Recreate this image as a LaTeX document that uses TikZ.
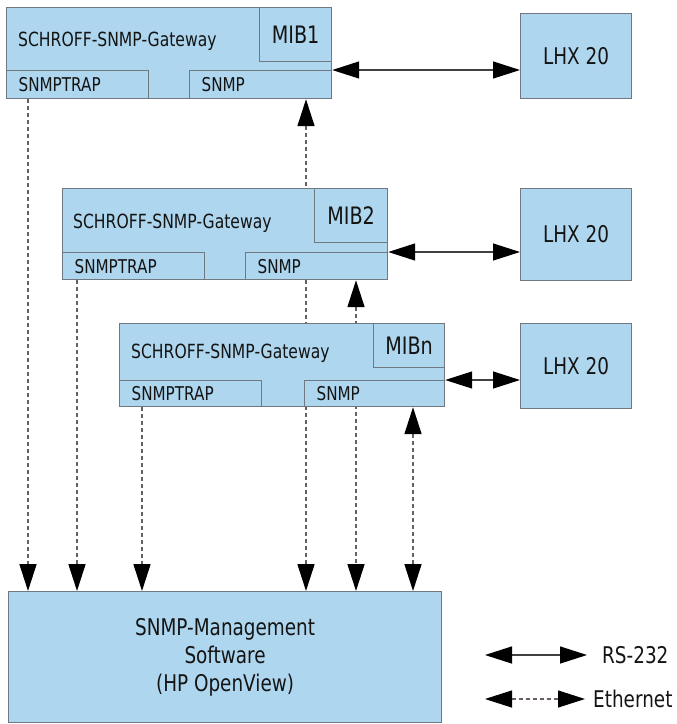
\documentclass[tikz,border=0pt]{standalone}
\usepackage{fontspec}
\setmainfont{DejaVu Sans}[FakeStretch=0.8]
\usetikzlibrary{arrows.meta,positioning,backgrounds}
\definecolor{boxblue}{RGB}{174,214,238}
\definecolor{edgegray}{RGB}{112,120,128}
\definecolor{ethgray}{RGB}{105,95,95}
\definecolor{txt}{RGB}{20,20,20}
\begin{document}
\begin{tikzpicture}[x=1pt,y=-1pt,
    box/.style = {draw=edgegray, fill=boxblue, line width=1.2pt, inner sep=0pt, anchor=north west, text=txt},
    gw/.style = {box, minimum width=325pt},
    mib/.style = {box, anchor=north east, font=\fontsize{24}{28}\selectfont},
    port/.style = {box, text width=118pt, inner xsep=12pt, align=left, font=\fontsize{19}{22}\selectfont},
    gwtext/.style = {anchor=west, inner sep=0pt, text=txt, font=\fontsize{19.5}{23}\selectfont},
    lhx/.style = {box, minimum width=111pt, font=\fontsize{23}{27}\selectfont},
    rs/.style = {draw=black!75, line width=1.3pt, {Triangle[length=27pt,width=17pt,color=black]}-{Triangle[length=27pt,width=17pt,color=black]}},
    eth/.style = {draw=ethgray, line width=1.6pt, dash pattern=on 4pt off 3pt},
    legend/.style = {anchor=west, inner sep=0pt, text=txt, font=\fontsize{23}{27}\selectfont}]
    \useasboundingbox (0,0) rectangle (677,724);

    % gateway 1
    \node[gw, minimum height=91pt] (gwA) at (6,7) {};
    \node[gwtext] (gwAt) at ([xshift=12pt,yshift=-34pt]gwA.north west) {SCHROFF-SNMP-Gateway};
    \node[mib, minimum width=72pt, minimum height=54pt] (mibA) at (gwA.north east) {MIB1};
    \node[port, minimum height=28pt, anchor=south west] (trapA) at (gwA.south west) {SNMPTRAP};
    \node[port, minimum height=28pt, anchor=south east] (snmpA) at (gwA.south east) {SNMP};

    % gateway 2
    \node[gw, minimum height=91pt] (gwB) at (62,188) {};
    \node[gwtext] (gwBt) at ([xshift=11pt,yshift=-35pt]gwB.north west) {SCHROFF-SNMP-Gateway};
    \node[mib, minimum width=73pt, minimum height=54pt] (mibB) at (gwB.north east) {MIB2};
    \node[port, minimum height=27pt, anchor=south west] (trapB) at (gwB.south west) {SNMPTRAP};
    \node[port, minimum height=27pt, anchor=south east] (snmpB) at (gwB.south east) {SNMP};

    % gateway n
    \node[gw, minimum height=83pt] (gwC) at (119,323) {};
    \node[gwtext] (gwCt) at ([xshift=12pt,yshift=-30pt]gwC.north west) {SCHROFF-SNMP-Gateway};
    \node[mib, minimum width=71pt, minimum height=44pt] (mibC) at (gwC.north east) {MIBn};
    \node[port, minimum height=26pt, anchor=south west] (trapC) at (gwC.south west) {SNMPTRAP};
    \node[port, minimum height=26pt, text width=116pt, anchor=south east] (snmpC) at (gwC.south east) {SNMP};

    % LHX units
    \node[lhx, minimum height=85pt] (lhxA) at (520,13) {LHX 20};
    \node[lhx, minimum height=92pt] (lhxB) at (520,188) {LHX 20};
    \node[lhx, minimum height=85pt] (lhxC) at (520,323) {LHX 20};

    % management station
    \node[box, minimum width=433pt, minimum height=131pt, align=center,
          font=\fontsize{23}{28}\selectfont] (mgr) at (8,591)
          {SNMP-Management\\Software\\(HP OpenView)};

    % RS-232 links
    \draw[rs] (snmpA.north east) -- (snmpA.north east -| lhxA.west);
    \draw[rs] (snmpB.north east) -- (snmpB.north east -| lhxB.west);
    \draw[rs] (snmpC.north east) -- (snmpC.north east -| lhxC.west);

    % Ethernet links
    \coordinate (t1) at (28,0);
    \coordinate (t2) at (77,0);
    \coordinate (t3) at (142,0);
    \coordinate (s1) at (306,0);
    \coordinate (s2) at (356,0);
    \coordinate (s3) at (413,0);
    \begin{scope}[on background layer]
        \draw[eth, -{Triangle[length=27pt,width=17pt,color=black]}] (trapA.south -| t1) -- (mgr.north -| t1);
        \draw[eth, -{Triangle[length=27pt,width=17pt,color=black]}] (trapB.south -| t2) -- (mgr.north -| t2);
        \draw[eth, -{Triangle[length=27pt,width=17pt,color=black]}] (trapC.south -| t3) -- (mgr.north -| t3);
        \draw[eth, {Triangle[length=27pt,width=17pt,color=black]}-{Triangle[length=27pt,width=17pt,color=black]}] (snmpA.south -| s1) -- (mgr.north -| s1);
        \draw[eth, {Triangle[length=27pt,width=17pt,color=black]}-{Triangle[length=27pt,width=17pt,color=black]}] (snmpB.south -| s2) -- (mgr.north -| s2);
        \draw[eth, {Triangle[length=27pt,width=17pt,color=black]}-{Triangle[length=27pt,width=17pt,color=black]}] (snmpC.south -| s3) -- (mgr.north -| s3);
    \end{scope}

    % legend
    \node[legend] (rsl) at (602,655) {RS-232};
    \node[legend] (ethl) at (593,699) {Ethernet};
    \coordinate (rsa) at (485,655);
    \coordinate (etha) at (485,699);
    \draw[rs] (rsa) -- ([xshift=-15pt]rsl.west);
    \draw[eth, line width=1.2pt, {Triangle[length=27pt,width=17pt,color=black]}-{Triangle[length=27pt,width=17pt,color=black]}] (etha) -- ([xshift=-8pt]ethl.west);
\end{tikzpicture}
\end{document}
